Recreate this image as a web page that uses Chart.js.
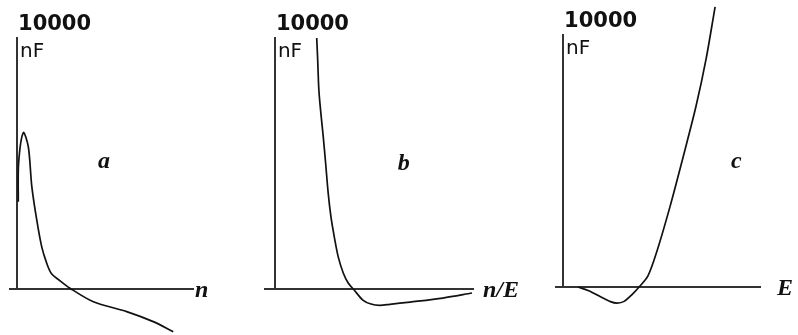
<!DOCTYPE html>
<html>
<head>
<meta charset="utf-8">
<title>nF</title>
<script src="https://cdn.jsdelivr.net/npm/chart.js"></script>
<style>
  body { margin: 0; background: #fff; }
  #wrap { position: relative; width: 798px; height: 335px; }
  #wrap canvas { position: absolute; top: 0; }
</style>
</head>
<body>
<div id="wrap">
  <canvas id="chart-a" width="262" height="335" style="left:0"></canvas>
  <canvas id="chart-b" width="268" height="335" style="left:262px"></canvas>
  <canvas id="chart-c" width="268" height="335" style="left:530px"></canvas>
</div>
<script>
// y axis: value and label at the top of each axis
var yTop = 10000;
var yTopLabel = "10000";
var yUnit = "nF";

// x axis names and panel letters
var xNames = ["n", "n/E", "E"];
var panelLetters = ["a", "b", "c"];

// curve a
var aX = [0.07, 0.09, 0.36, 0.64, 0.84, 1.12, 1.4, 1.69, 1.95, 2.4, 3.01, 4.34, 6.23, 7.74, 8.88];
var aY = [3480, 5020, 6230, 5670, 4080, 2750, 1690, 1020, 620, 350, 30, -510, -900, -1300, -1700];

// curve b
var bX = [2.11, 2.16, 2.22, 2.32, 2.44, 2.56, 2.69, 2.83, 3.0, 3.2, 3.45, 3.7, 4.0, 4.44, 4.85, 5.3, 5.8, 6.82, 8.48, 9.95];
var bY = [10000, 9120, 7920, 7010, 6070, 5020, 3820, 2870, 2070, 1270, 640, 240, -40, -440, -600, -650, -610, -520, -360, -160];

// curve c
var cX = [0.76, 1.3, 1.9, 2.4, 2.74, 3.1, 3.5, 3.86, 4.31, 4.77, 5.43, 6.09, 6.75, 7.26, 7.72];
var cY = [0, -150, -390, -580, -640, -570, -300, 0, 440, 1430, 3190, 5140, 7170, 9040, 11120];

function toPoints(xs, ys) {
  return xs.map(function (x, i) { return {x: x, y: ys[i]}; });
}

//axis-top value, unit, panel letter and x axis name
var panelLabels = {
  id: "panelLabels",
  afterDraw(chart, args, opts) {
    let ctx = chart.ctx;
    let xs = chart.scales.x, ys = chart.scales.y;
    let x0 = xs.getPixelForValue(0);
    let top = ys.getPixelForValue(yTop);
    let zero = ys.getPixelForValue(0);
    ctx.save();
    ctx.fillStyle = "#111";
    ctx.textBaseline = "alphabetic";
    ctx.textAlign = "left";
    ctx.font = 'bold 21px "DejaVu Sans"';
    ctx.fillText(yTopLabel, x0 + 1, top - 8);
    ctx.font = '20px "DejaVu Sans"';
    ctx.fillText(yUnit, x0 + 3, top + 19);
    ctx.font = 'italic bold 24px "Liberation Serif"';
    ctx.textAlign = "center";
    ctx.fillText(opts.letter, xs.getPixelForValue(opts.letterAt[0]), ys.getPixelForValue(opts.letterAt[1]));
    ctx.textAlign = "left";
    ctx.fillText(opts.name, chart.chartArea.right + opts.nameGap, zero + 8);
    ctx.restore();
  }
};

var panels = [
  {id: "chart-a", xs: aX, ys: aY, xMin: -0.4, padding: {left: 10, right: 69, top: 38, bottom: 46}, letterAt: [4.94, 4820], nameGap: 2},
  {id: "chart-b", xs: bX, ys: bY, xMin: -0.5, padding: {left: 3, right: 57, top: 38, bottom: 46}, letterAt: [6.5, 4740], nameGap: 10},
  {id: "chart-c", xs: cX, ys: cY, xMin: -0.36, padding: {left: 26, right: 38, top: 35, bottom: 48}, letterAt: [8.8, 4740], nameGap: 17}
];

panels.forEach(function (p, i) {
  new Chart(p.id, {
    type: "line",
    data: {
      datasets: [{
        data: toPoints(p.xs, p.ys),
        borderColor: "#111",
        borderWidth: 1.7,
        pointRadius: 0,
        tension: 0.3,
        clip: false
      }]
    },
    options: {
      responsive: false,
      animation: false,
      layout: { padding: p.padding },
      plugins: {
        legend: { display: false },
        tooltip: { enabled: false },
        panelLabels: {
          letter: panelLetters[i],
          letterAt: p.letterAt,
          name: xNames[i],
          nameGap: p.nameGap
        }
      },
      scales: {
        x: {
          type: "linear",
          position: { y: 0 },
          min: p.xMin,
          max: 10,
          grid: { display: false, drawTicks: false },
          ticks: { display: false },
          border: { display: true, color: "#333", width: 2 }
        },
        y: {
          type: "linear",
          position: { x: 0 },
          min: 0,
          max: yTop,
          grid: { display: false, drawTicks: false },
          ticks: { display: false },
          border: { display: true, color: "#333", width: 2 }
        }
      }
    },
    plugins: [panelLabels]
  });
});
</script>
</body>
</html>
